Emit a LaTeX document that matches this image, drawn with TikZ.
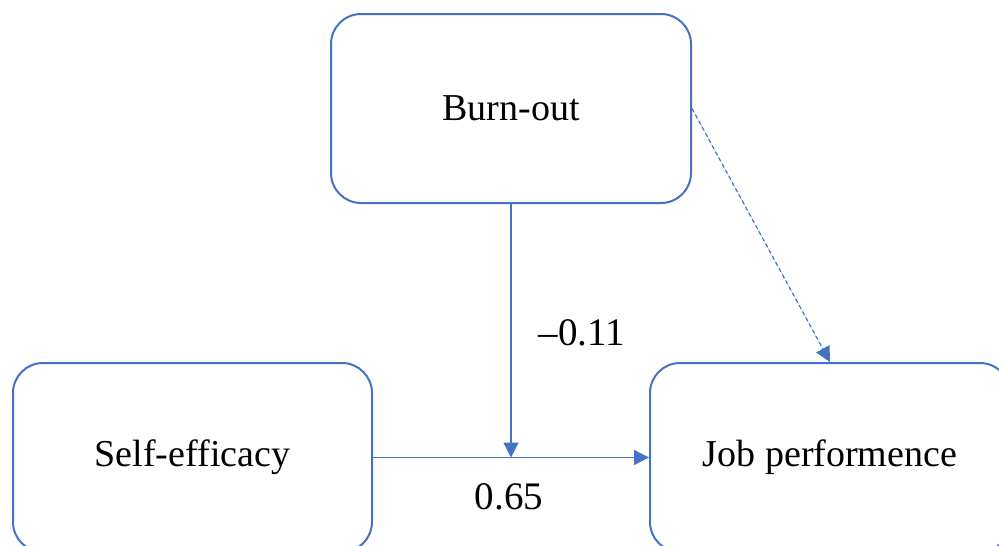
\documentclass[tikz,border=0pt]{standalone}
\usepackage{fontspec}
\setmainfont{Liberation Serif}
\usetikzlibrary{arrows.meta}
\definecolor{lineblue}{RGB}{68,114,196}
\begin{document}
\begin{tikzpicture}[x=1pt,y=-1pt,
  box/.style={draw=lineblue,line width=2pt,rounded corners=30pt,fill=white,
    inner sep=0pt,font=\fontsize{38}{42}\selectfont},
  conn/.style={draw=lineblue,line width=1.2pt,-{Triangle[length=15pt,width=15pt]},fill=lineblue},
  lbl/.style={inner sep=0pt,font=\fontsize{39}{42}\selectfont}]
\useasboundingbox (0,0) rectangle (999,546);
\clip (0,0) rectangle (999,546);
\fill[white] (0,0) rectangle (999,546);
\node[box,minimum width=360pt,minimum height=189pt] (burn) at (511,108.5) {Burn-out};
\node[box,minimum width=359pt,minimum height=189pt] (self) at (192.5,457.5) {Self-efficacy};
\node[box,minimum width=360pt,minimum height=189pt] (job) at (830,457.5) {Job performence};
\coordinate (m) at (burn.south |- self.east);
\draw[conn] (self.east) -- (job.west);
\draw[conn] (burn.south) -- (m);
\draw[conn,dash pattern=on 4pt off 3pt] (burn.east) -- (job.north);
\node[lbl] (l1) at (582,333) {--0.11};
\node[lbl] (l2) at (509,497) {0.65};
\end{tikzpicture}
\end{document}
